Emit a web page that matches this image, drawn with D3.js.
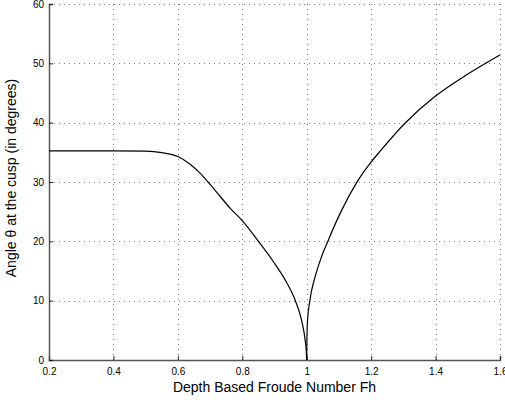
<!DOCTYPE html>
<html>
<head>
<meta charset="utf-8">
<script src="https://cdn.jsdelivr.net/npm/d3@7"></script>
<style>
  body { margin: 0; background: #fff; }
  text { font-family: "Liberation Sans", Arial, sans-serif; fill: #000; }
</style>
</head>
<body>
<div id="chart"></div>
<script>
const width = 505, height = 406;
const margin = {top: 4, right: 5, bottom: 46, left: 49};

// subcritical branch (Fh < 1)
const subFh    = [0.2, 0.3, 0.4, 0.5, 0.55, 0.6, 0.638, 0.669, 0.70, 0.731, 0.762, 0.80, 0.85, 0.896, 0.933, 0.964, 0.984, 0.995, 0.9985, 1.0];
const subAngle = [35.26, 35.26, 35.26, 35.2, 34.95, 34.3, 33.0, 31.5, 29.6, 27.6, 25.6, 23.5, 20.0, 16.6, 13.5, 10.1, 6.7, 3.4, 1.6, 0];

// supercritical branch (Fh > 1)
const supFh    = [1.0, 1.0005, 1.002, 1.010, 1.026, 1.046, 1.067, 1.109, 1.155, 1.199, 1.228, 1.305, 1.398, 1.486, 1.6];
const supAngle = [0, 3.0, 6.2, 10.1, 14.0, 17.4, 20.2, 25.3, 29.9, 33.3, 35.2, 39.9, 44.4, 47.7, 51.4];

const xTicks = [0.2, 0.4, 0.6, 0.8, 1.0, 1.2, 1.4, 1.6];
const yTicks = [0, 10, 20, 30, 40, 50, 60];

const svg = d3.select("#chart").append("svg").attr("width", width).attr("height", height);

const x = d3.scaleLinear().domain([0.2, 1.6]).range([margin.left, width - margin.right]);
const y = d3.scaleLinear().domain([0, 60]).range([height - margin.bottom, margin.top]);

// dotted grid
const grid = svg.append("g").attr("stroke", "#808080").attr("stroke-dasharray", "1,4").attr("stroke-width", 1);
grid.selectAll(".gx").data(xTicks.slice(1)).enter().append("line")
    .attr("x1", d => Math.round(x(d)) + 0.5).attr("x2", d => Math.round(x(d)) + 0.5)
    .attr("y1", y(0)).attr("y2", y(60));
grid.selectAll(".gy").data(yTicks.slice(1)).enter().append("line")
    .attr("x1", x(0.2)).attr("x2", x(1.6))
    .attr("y1", d => Math.round(y(d)) + 0.5).attr("y2", d => Math.round(y(d)) + 0.5);

// axes
const xAxis = d3.axisBottom(x).tickValues(xTicks).tickSize(-4).tickPadding(8).tickFormat(d => d === 1 ? "1" : d3.format(".1f")(d));
const yAxis = d3.axisLeft(y).tickValues(yTicks).tickSize(-4).tickPadding(5).tickFormat(d3.format("d"));

const gx = svg.append("g").attr("transform", `translate(0,${y(0)})`).call(xAxis);
const gy = svg.append("g").attr("transform", `translate(${x(0.2)},0)`).call(yAxis);

[gx, gy].forEach(g => {
    g.select(".domain").attr("stroke", "#555").attr("stroke-width", 1.5);
    g.selectAll(".tick line").attr("stroke", "#222");
    g.selectAll(".tick text").style("font-size", "10px").attr("fill", "#000");
});

// curves
const line = d3.line().x(d => x(d[0])).y(d => y(d[1])).curve(d3.curveMonotoneX);
svg.append("path").datum(subFh.map((f, i) => [f, subAngle[i]]))
    .attr("d", line).attr("fill", "none").attr("stroke", "#000").attr("stroke-width", 1.2);
svg.append("path").datum(supFh.map((f, i) => [f, supAngle[i]]))
    .attr("d", line).attr("fill", "none").attr("stroke", "#000").attr("stroke-width", 1.2);

// labels
svg.append("text")
    .attr("x", (x(0.2) + x(1.6)) / 2).attr("y", 392)
    .attr("text-anchor", "middle").style("font-size", "14px")
    .text("Depth Based Froude Number Fh");

svg.append("text")
    .attr("transform", `translate(16,178) rotate(-90)`)
    .attr("text-anchor", "middle").style("font-size", "14px")
    .text("Angle θ at the cusp (in degrees)");
</script>
</body>
</html>
